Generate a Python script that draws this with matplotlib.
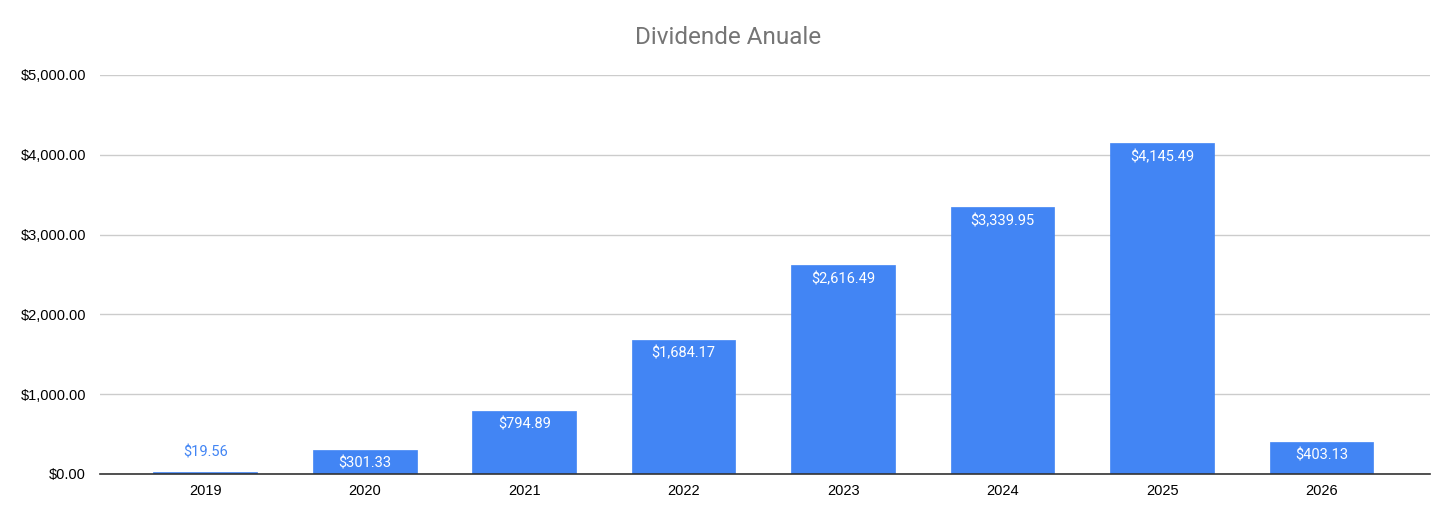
import matplotlib
matplotlib.use("Agg")
from matplotlib import pyplot

years = ["2019", "2020", "2021", "2022", "2023", "2024", "2025", "2026"]
dividends = [19.56, 301.33, 794.89, 1684.17, 2616.49, 3339.95, 4145.49, 403.13]
y_ticks = [0, 1000, 2000, 3000, 4000, 5000]

pyplot.rcParams["font.family"] = ["Roboto", "DejaVu Sans"]
blue = "#4285F4"

fig = pyplot.figure(figsize=(14.56, 5.22), dpi=100)
ax = fig.add_axes([100 / 1456, 1 - 474 / 522, 1330 / 1456, 399 / 522])

x = list(range(len(years)))
bars = ax.bar(x, dividends, width=0.65, color=blue, edgecolor=blue, linewidth=0.5, zorder=3)

for b, v in zip(bars, dividends):
    label = "${:,.2f}".format(v)
    cx = b.get_x() + b.get_width() / 2
    if v < 300:
        ax.annotate(label, (cx, v), xytext=(0, 14), textcoords="offset points",
                    ha="center", va="center", color=blue, fontsize=10.5, zorder=4)
    else:
        ax.annotate(label, (cx, v), xytext=(0, -10), textcoords="offset points",
                    ha="center", va="center", color="white", fontsize=10.5, zorder=4)

ax.set_xlim(-0.66, 7.68)
ax.set_ylim(0, 5000)
ax.set_xticks(x)
ax.set_xticklabels(years, family=["Liberation Sans", "DejaVu Sans"])
ax.set_yticks(y_ticks)
ax.set_yticklabels(["${:,.2f}".format(t) for t in y_ticks], family=["Liberation Sans", "DejaVu Sans"])
ax.tick_params(axis="both", length=0, labelsize=10.5, colors="black")
ax.tick_params(axis="x", pad=7)
ax.tick_params(axis="y", pad=10)

ax.grid(axis="y", color="#cccccc", linewidth=1, zorder=0)
for s in ["top", "right", "left"]:
    ax.spines[s].set_visible(False)
ax.spines["bottom"].set_color("#333333")
ax.spines["bottom"].set_linewidth(1.2)
ax.spines["bottom"].set_zorder(5)

fig.text(728 / 1456, 1 - 38 / 522, "Dividende Anuale", ha="center", va="center",
         fontsize=17.5, color="#757575")

fig.savefig("out.png")
